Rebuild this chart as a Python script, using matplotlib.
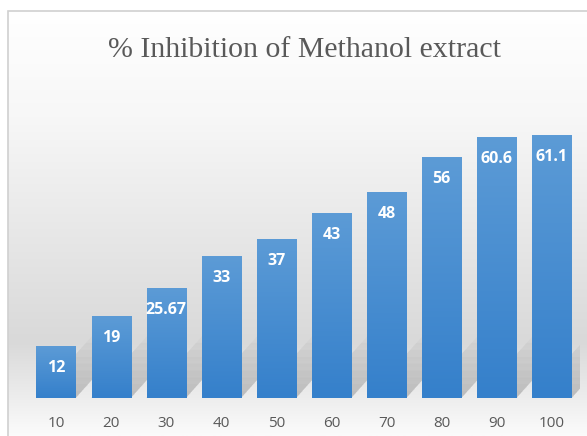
import numpy as np
import matplotlib
matplotlib.use("Agg")
import matplotlib.pyplot as plt
from matplotlib.colors import LinearSegmentedColormap
from matplotlib.patches import Rectangle, Polygon

concentrations = ["10", "20", "30", "40", "50", "60", "70", "80", "90", "100"]
inhibition = [12, 19, 25.67, 33, 37, 43, 48, 56, 60.6, 61.1]
value_labels = ["12", "19", "25.67", "33", "37", "43", "48", "56", "60.6", "61.1"]

W, H = 587, 436
fig = plt.figure(figsize=(W / 100, H / 100), dpi=100)

# chart area background with vertical gradient
bg = fig.add_axes([8 / W, 0, 1 - 8 / W, 1 - 11 / H], zorder=0)
bg_cmap = LinearSegmentedColormap.from_list(
    "bg", [(0, "#ffffff"), (0.25, "#f7f7f7"), (0.55, "#e6e6e6"),
           (0.78, "#d9d9d9"), (0.88, "#e8e8e8"), (1, "#fbfbfb")])
grad = np.linspace(0, 1, 256).reshape(-1, 1)
bg.imshow(grad, aspect="auto", cmap=bg_cmap, extent=[0, 1, 0, 1])
bg.set_xlim(0, 1)
bg.set_ylim(0, 1)
bg.axis("off")
fig.add_artist(Rectangle((8 / W, -0.01), 1.2, 1 - 11 / H + 0.01, transform=fig.transFigure,
                         fill=False, edgecolor="#d0d0d0", linewidth=1.2, zorder=1))

ax = fig.add_axes([28.5 / W, 38 / H, 551 / W, 301 / H], zorder=2)
ax.patch.set_alpha(0)
x = np.arange(len(concentrations))
bw = 0.71
bars = ax.bar(x, inhibition, width=bw, color="#4a8fd3", zorder=3)

# soft blurred shadows behind bars
for xi in x:
    for k in range(1, 10):
        hgt = 1.6 * k
        dx = 0.07 * hgt
        sh = Polygon([(xi - bw / 2, 0), (xi + bw / 2, 0),
                      (xi + bw / 2 + dx, hgt), (xi - bw / 2 + dx, hgt)],
                     closed=True, facecolor="#7a7a7a", alpha=0.05, edgecolor="none", zorder=2)
        ax.add_patch(sh)

bar_cmap = LinearSegmentedColormap.from_list("bar", ["#3580cb", "#5c9bd6"])
for b in bars:
    x0, w, h = b.get_x(), b.get_width(), b.get_height()
    im = ax.imshow(np.linspace(0, 1, 100).reshape(-1, 1), origin="lower", aspect="auto",
                   cmap=bar_cmap, extent=[x0, x0 + w, 0, h], zorder=3)
    im.set_clip_path(b)

ax.set_xlim(-0.5, len(x) - 0.5)
ax.set_ylim(0, 70)

for xi, v, lab in zip(x, inhibition, value_labels):
    ax.annotate(lab, (xi, v), xytext=(0, -22), textcoords="offset pixels",
                ha="center", va="center", color="white", fontsize=11.5, fontweight="bold",
                family="Open Sans", zorder=5)

ax.set_xticks(x)
ax.set_xticklabels(concentrations, fontsize=11, color="#595959", family="Open Sans")
ax.tick_params(axis="x", length=0, pad=13)
ax.set_yticks([])
for s in ax.spines.values():
    s.set_visible(False)

fig.text(304 / W, 1 - 50 / H, "% Inhibition of Methanol extract", ha="center", va="center",
         fontsize=21.5, color="#595959", family="Liberation Serif")

fig.savefig("out.png", dpi=100)
